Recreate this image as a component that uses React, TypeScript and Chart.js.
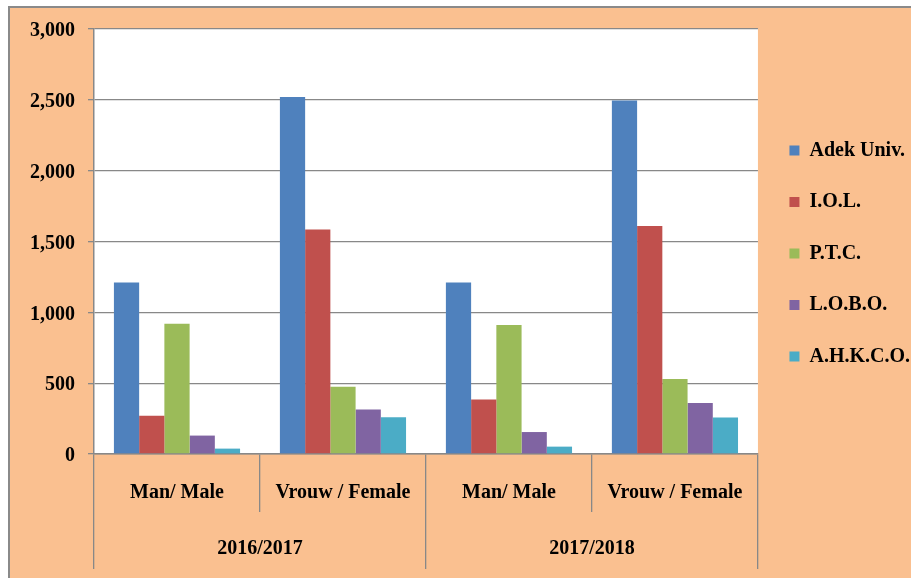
import React, { useEffect, useRef } from "react";
import { Chart, registerables } from "chart.js";

Chart.register(...registerables);

const categories = ["Man/ Male", "Vrouw / Female", "Man/ Male", "Vrouw / Female"];
const years = ["2016/2017", "2017/2018"];
const seriesNames = ["Adek Univ.", "I.O.L.", "P.T.C.", "L.O.B.O.", "A.H.K.C.O."];
const adekUniv = [1210, 2520, 1210, 2495];
const iol = [270, 1585, 385, 1610];
const ptc = [920, 475, 910, 530];
const lobo = [130, 315, 155, 360];
const ahkco = [38, 260, 52, 258];
const seriesColors = ["#4F81BD", "#C0504D", "#9BBB59", "#8064A2", "#4BACC6"];
const yMin = 0;
const yMax = 3000;
const yStep = 500;

const FONT = "'Liberation Serif', 'Times New Roman', serif";
const GRID = "#888888";

const plotBg = {
  id: "plotBg",
  beforeDraw(chart: any) {
    const { ctx, chartArea } = chart;
    if (!chartArea) return;
    ctx.save();
    ctx.fillStyle = "#ffffff";
    ctx.fillRect(chartArea.left, chartArea.top, chartArea.right - chartArea.left, chartArea.bottom - chartArea.top);
    ctx.restore();
  },
};

export default function App() {
  const ref = useRef<HTMLCanvasElement | null>(null);

  useEffect(() => {
    if (!ref.current) return;
    const values = [adekUniv, iol, ptc, lobo, ahkco];
    const chart = new Chart(ref.current, {
      type: "bar",
      data: {
        labels: categories,
        datasets: seriesNames.map((name, i) => ({
          label: name,
          data: values[i],
          backgroundColor: seriesColors[i],
          borderWidth: 0,
          categoryPercentage: 0.76,
          barPercentage: 1,
        })),
      },
      options: {
        animation: false,
        responsive: false,
        maintainAspectRatio: false,
        layout: { padding: { top: 21, bottom: 9, left: 0, right: 2 } },
        plugins: {
          tooltip: { enabled: false },
          legend: {
            position: "right",
            fullSize: false,
            title: { display: true, text: "", font: { size: 20 }, padding: 0 },
            labels: {
              boxWidth: 10,
              boxHeight: 10,
              padding: 31.5,
              color: "#000",
              font: { family: FONT, size: 20, weight: "bold" },
            },
          },
        },
        scales: {
          y: {
            min: yMin,
            max: yMax,
            afterFit: (s: any) => {
              s.width = 84;
              s.paddingTop = 0;
              s.paddingBottom = 0;
            },
            ticks: {
              stepSize: yStep,
              padding: 13,
              labelOffset: 2,
              color: "#000",
              font: { family: FONT, size: 20, weight: "bold" },
              callback: (v: any) => Number(v).toLocaleString("en-US"),
            },
            grid: { color: GRID, lineWidth: 1.3, tickLength: 6, drawTicks: true },
            border: { display: true, color: GRID, width: 1.5 },
          },
          x: {
            type: "category",
            offset: true,
            afterFit: (s: any) => {
              s.height = 58;
            },
            ticks: {
              padding: -31,
              color: "#000",
              maxRotation: 0,
              autoSkip: false,
              font: { family: FONT, size: 20, weight: "bold" },
            },
            grid: {
              offset: true,
              drawOnChartArea: false,
              drawTicks: true,
              tickLength: 58,
              color: GRID,
              lineWidth: 1.3,
            },
            border: { display: true, color: GRID, width: 1.5 },
          },
          x2: {
            type: "category",
            labels: years,
            position: "bottom",
            offset: true,
            afterFit: (s: any) => {
              s.height = 57;
            },
            ticks: {
              padding: -32,
              color: "#000",
              maxRotation: 0,
              autoSkip: false,
              font: { family: FONT, size: 20, weight: "bold" },
            },
            grid: {
              offset: true,
              drawOnChartArea: false,
              drawTicks: true,
              tickLength: 57,
              color: GRID,
              lineWidth: 1.3,
            },
            border: { display: false },
          },
        },
      } as any,
      plugins: [plotBg],
    });
    return () => chart.destroy();
  }, []);

  return (
    <div
      style={{
        position: "fixed",
        left: 8,
        top: 6,
        width: 912,
        height: 570,
        border: "2px solid #8a8a8a",
        background: "#FAC090",
      }}
    >
      <canvas ref={ref} width={912} height={570} style={{ display: "block", width: 912, height: 570 }} />
    </div>
  );
}
